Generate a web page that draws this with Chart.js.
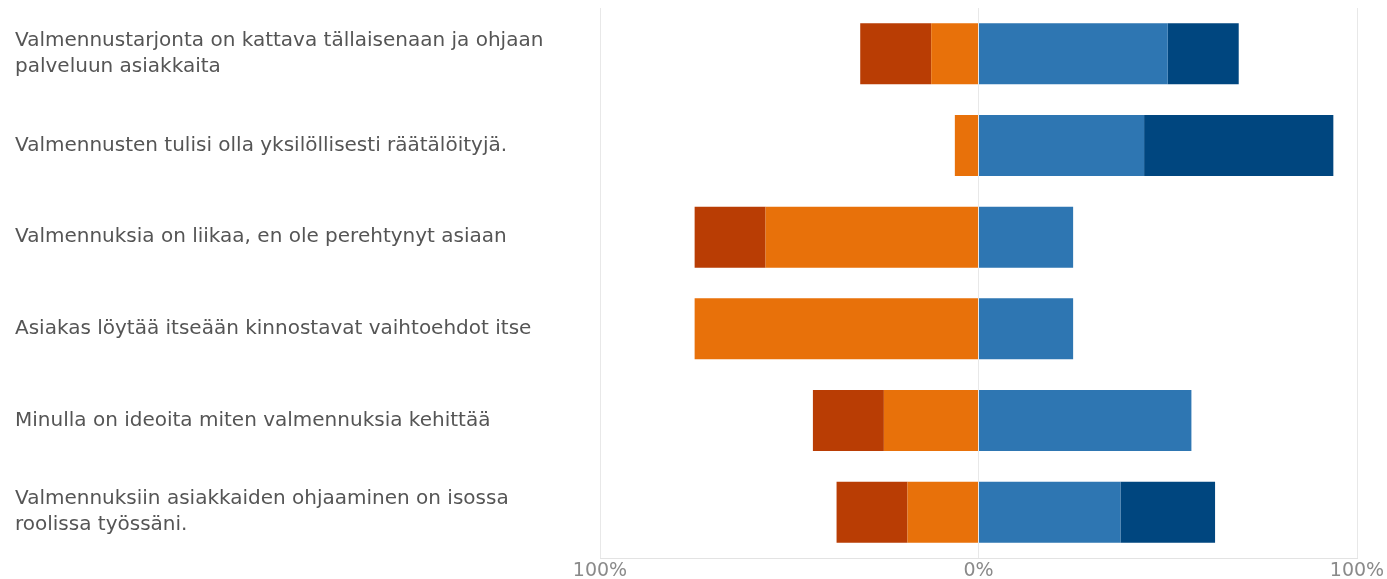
<!DOCTYPE html>
<html>
<head>
<meta charset="utf-8">
<script src="https://cdn.jsdelivr.net/npm/chart.js@4/dist/chart.umd.min.js"></script>
<style>
    body { margin: 0; background: #fff; }
    #wrap { width: 1387px; height: 579px; position: relative; }
</style>
</head>
<body>
<div id="wrap"><canvas id="likertChart"></canvas></div>
<script>
// statements (multi-line labels as in the original)
const statements = [
    ['Valmennustarjonta on kattava tällaisenaan ja ohjaan', 'palveluun asiakkaita'],
    'Valmennusten tulisi olla yksilöllisesti räätälöityjä.',
    'Valmennuksia on liikaa, en ole perehtynyt asiaan',
    'Asiakas löytää itseään kinnostavat vaihtoehdot itse',
    'Minulla on ideoita miten valmennuksia kehittää',
    ['Valmennuksiin asiakkaiden ohjaaminen on isossa', 'roolissa työssäni.']
];

// shares of answers in percent
const stronglyDisagree = [18.75, 0, 18.75, 0, 18.75, 18.75];
const disagree = [12.5, 6.25, 56.25, 75, 25, 18.75];
const agree = [50, 43.75, 25, 25, 56.25, 37.5];
const stronglyAgree = [18.75, 50, 0, 0, 0, 25];

const axisTicks = [-100, 0, 100];

const colors = {
    stronglyDisagree: '#b93d04',
    disagree: '#e8710a',
    agree: '#2e76b2',
    stronglyAgree: '#00467f'
};

const ctx = document.getElementById('likertChart').getContext('2d');

new Chart(ctx, {
    type: 'bar',
    data: {
        labels: statements,
        datasets: [
            // negative side: first dataset sits next to zero
            { label: 'Eri mieltä', data: disagree.map(v => -v), backgroundColor: colors.disagree },
            { label: 'Täysin eri mieltä', data: stronglyDisagree.map(v => -v), backgroundColor: colors.stronglyDisagree },
            { label: 'Samaa mieltä', data: agree, backgroundColor: colors.agree },
            { label: 'Täysin samaa mieltä', data: stronglyAgree, backgroundColor: colors.stronglyAgree }
        ]
    },
    options: {
        indexAxis: 'y',
        responsive: true,
        maintainAspectRatio: false,
        animation: false,
        layout: {
            padding: { top: 8, right: 30, left: 15, bottom: 0 }
        },
        datasets: {
            bar: {
                barPercentage: 0.665,
                categoryPercentage: 1,
                borderWidth: 0
            }
        },
        plugins: {
            legend: { display: false },
            tooltip: { enabled: false }
        },
        scales: {
            x: {
                stacked: true,
                min: -100,
                max: 100,
                afterBuildTicks: scale => {
                    scale.ticks = axisTicks.map(v => ({ value: v }));
                },
                afterFit: scale => {
                    scale.height = 21;
                    scale.paddingLeft = 0;
                    scale.paddingRight = 0;
                },
                ticks: {
                    callback: v => Math.abs(v) + '%',
                    color: '#8a8a8a',
                    padding: 2,
                    maxRotation: 0,
                    font: { family: 'DejaVu Sans', size: 19 }
                },
                grid: {
                    color: '#e8e8e8',
                    drawTicks: false
                },
                border: { display: true, color: '#e3e3e3' }
            },
            y: {
                stacked: true,
                afterFit: scale => {
                    scale.width = 585;
                    scale.paddingTop = 0;
                    scale.paddingBottom = 0;
                },
                ticks: {
                    crossAlign: 'far',
                    color: '#555555',
                    font: { family: 'DejaVu Sans', size: 20, lineHeight: 1.3 }
                },
                grid: { display: false },
                border: { display: false }
            }
        }
    }
});
</script>
</body>
</html>
